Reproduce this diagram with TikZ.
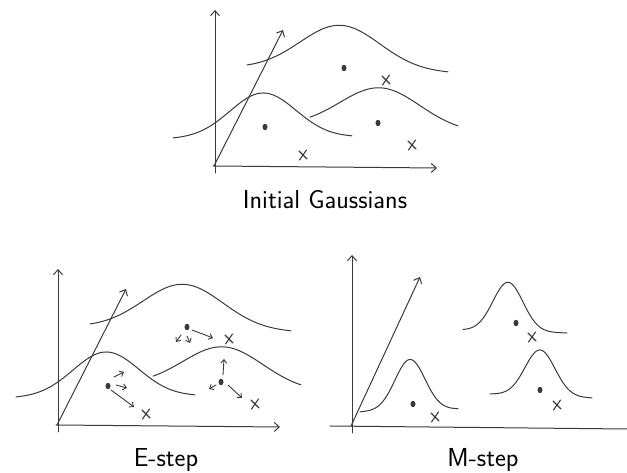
\documentclass[tikz,border=0pt]{standalone}
\usepackage{tikz}
\usetikzlibrary{arrows.meta}
\definecolor{pencil}{HTML}{3A3A3A}

\tikzset{
  sketch/.style={draw=pencil,line width=1pt,line cap=round},
  axisline/.style={sketch,-{Straight Barb[length=5pt,width=9pt]}},
  shiftarrow/.style={sketch,line width=0.9pt,-{Straight Barb[length=3.5pt,width=6pt]}},
  caption/.style={font=\sffamily\fontsize{26}{30}\selectfont,anchor=base},
}

% left, right, mean, base left, base right, height, spread
\newcommand{\gausscurve}[7]{%
  \draw[sketch] plot[domain=#1:#2,samples=80,smooth]
    (\x,{#4+(#5-(#4))*(\x-(#1))/(#2-(#1))+#6*exp(-0.5*((\x-(#3))/#7)^2)});
}
% hand drawn data point
\newcommand{\xsign}[1]{%
  \draw[sketch,line width=1.1pt] (#1) ++(-3.5,-5) -- ++(7,10) (#1) ++(-4,4) -- ++(8,-8);
}
% axes, the three initial Gaussians, their means and the data points
\newcommand{\initsketch}[1]{%
  \draw[axisline] (1,-7) -- (1,156);   % Y axis
  \draw[axisline] (-1,0) -- (223,-2);  % X axis
  \draw[axisline] (0,0) -- (69,136);   % Z axis
  \gausscurve{33}{234}{126}{98}{93}{45}{40}
  \gausscurve{-41}{138}{49}{27}{29}{45}{33}
  \gausscurve{96}{244}{166}{40}{34}{41}{40}
  \coordinate (#1a) at (130,98);
  \coordinate (#1b) at (51,39);
  \coordinate (#1c) at (164,43);
  \foreach \c in {#1a,#1b,#1c} {
    \fill[pencil] (\c) ellipse (2.5pt and 3.2pt);
  }
  \foreach \p in {{172,86},{89,11},{198,21}} {
    \xsign{\p}
  }
}

\begin{document}
\begin{tikzpicture}[x=1pt,y=1pt]
  \useasboundingbox (0,0) rectangle (627,473);

  % Initial Gaussians
  \begin{scope}[shift={(214,307)}]
    \initsketch{i}
  \end{scope}
  \node[caption] (initcap) at (325,264) {Initial Gaussians};

  % E-step: same sketch, each point pulled by every mean
  \begin{scope}[shift={(57,48)}]
    \initsketch{e}
    \draw[shiftarrow] ([shift={(5,-3)}]ea) -- ([shift={(26,-11)}]ea);
    \draw[shiftarrow] ([shift={(-6,-8)}]ea) -- ([shift={(-11,-15)}]ea);
    \draw[shiftarrow] ([shift={(0,-9)}]ea) -- ([shift={(3,-16)}]ea);
    \draw[shiftarrow] ([shift={(3,-4)}]eb) -- ([shift={(26,-21)}]eb);
    \draw[shiftarrow] ([shift={(8,1)}]eb) -- ([shift={(19,-2)}]eb);
    \draw[shiftarrow] ([shift={(6,9)}]eb) -- ([shift={(16,14)}]eb);
    \draw[shiftarrow] ([shift={(2,7)}]ec) -- ([shift={(3,23)}]ec);
    \draw[shiftarrow] ([shift={(-5,-3)}]ec) -- ([shift={(-12,-7)}]ec);
    \draw[shiftarrow] ([shift={(7,-3)}]ec) -- ([shift={(21,-16)}]ec);
  \end{scope}
  \node[caption] (ecap) at (166,6) {E-step};

  % M-step: narrow Gaussians next to their points
  \begin{scope}[shift={(351,47)}]
    \draw[axisline] (1,-7) -- (1,171);
    \draw[sketch] (-21,0) -- (276,-3);
    \draw[axisline] (0,0) -- (69,149);
    \gausscurve{9}{107}{59}{14}{17}{51}{15}
    \gausscurve{112}{216}{157}{96}{93}{49}{15}
    \gausscurve{139}{241}{189}{32}{28}{46}{15}
    \coordinate (ma) at (62,22);
    \coordinate (mb) at (165,103);
    \coordinate (mc) at (189,36);
    \foreach \c in {ma,mb,mc} {
      \fill[pencil] (\c) ellipse (2.5pt and 3.2pt);
    }
    \foreach \p in {{84,9},{181,89},{206,21}} {
      \xsign{\p}
    }
  \end{scope}
  \node[caption] (mcap) at (483,6) {M-step};
\end{tikzpicture}
\end{document}
